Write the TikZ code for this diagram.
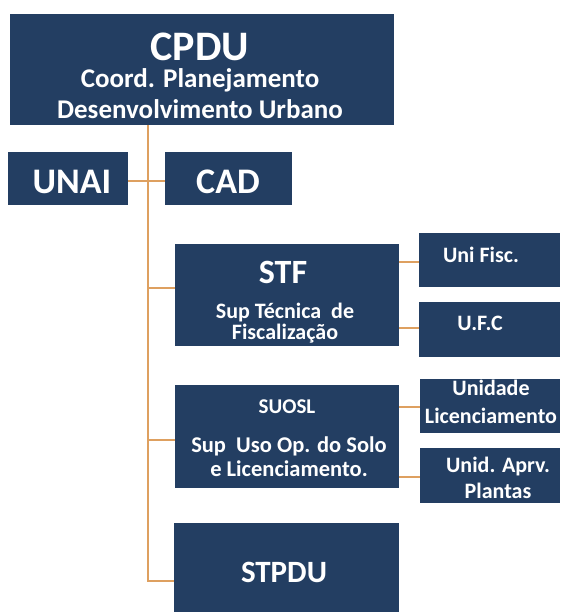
\documentclass[tikz,border=0pt]{standalone}
\usepackage{fontspec}
\setmainfont{Carlito}
\definecolor{navy}{RGB}{35,62,98}
\definecolor{linec}{RGB}{222,160,96}
\begin{document}
\begin{tikzpicture}[x=1pt,y=-1pt,
  box/.style={fill=navy,draw=none,inner sep=0pt,outer sep=0pt,rectangle},
  lbl/.style={text=white,font=\bfseries,anchor=base,inner sep=0pt},
  conn/.style={draw=linec,line width=1.2pt}]
\useasboundingbox (0,0) rectangle (562,616);
% boxes
\node[box,minimum width=384pt,minimum height=111pt] (cpdu) at (202,69.5) {};
\node[box,minimum width=120pt,minimum height=53pt] (unai) at (68,178.5) {};
\node[box,minimum width=127pt,minimum height=53pt] (cad) at (228.5,178.5) {};
\node[box,minimum width=224pt,minimum height=102pt] (stf) at (287,295) {};
\node[box,minimum width=141pt,minimum height=54pt] (unifisc) at (489.5,260) {};
\node[box,minimum width=141pt,minimum height=55pt] (ufc) at (489.5,329.5) {};
\node[box,minimum width=224pt,minimum height=103pt] (suosl) at (287,436.5) {};
\node[box,minimum width=140pt,minimum height=54pt] (unilic) at (490,406) {};
\node[box,minimum width=140pt,minimum height=55pt] (uniapr) at (490,475.5) {};
\node[box,minimum width=225pt,minimum height=89pt] (stpdu) at (286.5,567.5) {};
% texts
\node[lbl,font=\bfseries\fontsize{42}{42}\selectfont] (tcpdu) at (200,60) {CPDU};
\node[lbl,font=\bfseries\fontsize{27}{27}\selectfont] (tcoord) at (200,87) {Coord. Planejamento};
\node[lbl,font=\bfseries\fontsize{27}{27}\selectfont] (tdes) at (200,118) {Desenvolvimento Urbano};
\node[lbl,font=\bfseries\fontsize{36}{36}\selectfont] (tunai) at (72,193) {UNAI};
\node[lbl,font=\bfseries\fontsize{36}{36}\selectfont] (tcad) at (228,193) {CAD};
\node[lbl,font=\bfseries\fontsize{34}{34}\selectfont] (tstf) at (283,283) {STF};
\node[lbl,font=\bfseries\fontsize{22}{22}\selectfont] (tsup1) at (285,318) {Sup Técnica\ \ de};
\node[lbl,font=\bfseries\fontsize{22}{22}\selectfont] (tsup2) at (285,339) {Fiscalização};
\node[lbl,font=\bfseries\fontsize{22}{22}\selectfont] (tunif) at (481,262) {Uni Fisc.};
\node[lbl,font=\bfseries\fontsize{22}{22}\selectfont] (tufc) at (480,330) {U.F.C};
\node[lbl,font=\bfseries\fontsize{21}{21}\selectfont] (tsuosl) at (287,413) {SUOSL};
\node[lbl,font=\bfseries\fontsize{22.5}{22.5}\selectfont] (tsu1) at (289,452) {Sup\ \ Uso Op. do Solo};
\node[lbl,font=\bfseries\fontsize{22.5}{22.5}\selectfont] (tsu2) at (289,476) {e Licenciamento.};
\node[lbl,font=\bfseries\fontsize{22}{22}\selectfont] (tul1) at (491,395) {Unidade};
\node[lbl,font=\bfseries\fontsize{22}{22}\selectfont] (tul2) at (491,423) {Licenciamento};
\node[lbl,font=\bfseries\fontsize{22}{22}\selectfont] (tua1) at (498,472) {Unid. Aprv.};
\node[lbl,font=\bfseries\fontsize{22}{22}\selectfont] (tua2) at (498,498) {Plantas};
\node[lbl,font=\bfseries\fontsize{31}{31}\selectfont] (tstpdu) at (284,582) {STPDU};
% connector coordinates
\coordinate (t0) at (148,125);
\coordinate (t1) at (148,581);
\coordinate (j1) at (148,288);
\coordinate (j2) at (148,440);
\coordinate (uc) at (148,181);
% connectors
\draw[conn] (t0) -- (t1) -- (t1 -| stpdu.west);
\draw[conn] (unai.east |- uc) -- (cad.west |- uc);
\draw[conn] (j1) -- (j1 -| stf.west);
\draw[conn] (j2) -- (j2 -| suosl.west);
\draw[conn] (stf.east |- 0,262) -- (unifisc.west |- 0,262);
\draw[conn] (stf.east |- 0,328) -- (ufc.west |- 0,328);
\draw[conn] (suosl.east |- 0,407) -- (unilic.west |- 0,407);
\draw[conn] (suosl.east |- 0,477) -- (uniapr.west |- 0,477);
\end{tikzpicture}
\end{document}
